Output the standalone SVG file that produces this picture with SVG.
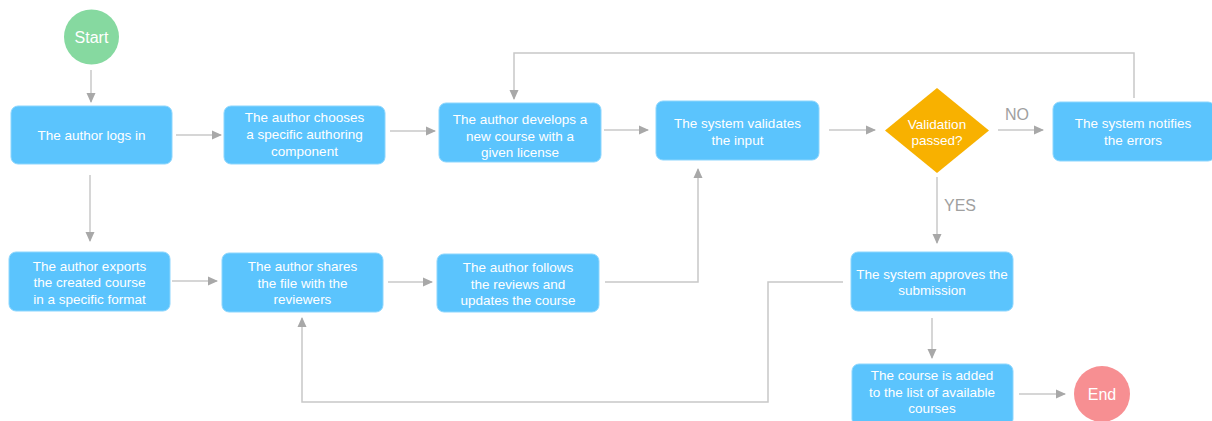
<svg xmlns="http://www.w3.org/2000/svg" width="1212" height="421" viewBox="0 0 1212 421">
<defs>
<marker id="arr" markerWidth="10" markerHeight="10" refX="9" refY="5" orient="auto" markerUnits="userSpaceOnUse">
<path d="M0,0.5 L10,5 L0,9.5 Z" fill="#a8a8a8"/>
</marker>
<style>
.box{fill:#5bc4fd;stroke:#8dd6fd;stroke-width:1}
.t{font-family:"Liberation Sans",Arial,sans-serif;font-size:13.5px;fill:#ffffff;text-anchor:middle;dominant-baseline:central}
.big{font-size:16px}
.lbl{font-family:"Liberation Sans",Arial,sans-serif;font-size:16px;fill:#a0a0a0;text-anchor:middle;dominant-baseline:central}
.c{fill:none;stroke:#c8c8c8;stroke-width:1.5}
.ca{fill:none;stroke:#c8c8c8;stroke-width:1.5;marker-end:url(#arr)}
</style>
</defs>
<rect width="1212" height="421" fill="#ffffff"/>
<g id="connectors">
<line class="ca" x1="91" y1="70" x2="91" y2="102"/>
<line class="ca" x1="176" y1="135" x2="221" y2="135"/>
<line class="ca" x1="390" y1="131" x2="435" y2="131"/>
<line class="ca" x1="604" y1="130" x2="648" y2="130"/>
<line class="ca" x1="829" y1="130" x2="875" y2="130"/>
<line class="ca" x1="998" y1="130" x2="1043" y2="130"/>
<polyline class="ca" points="1134,98 1134,53 514,53 514,99"/>
<line class="ca" x1="937" y1="177" x2="937" y2="243"/>
<line class="ca" x1="90" y1="175" x2="90" y2="241"/>
<line class="ca" x1="172" y1="281" x2="217" y2="281"/>
<line class="ca" x1="388" y1="282" x2="432" y2="282"/>
<polyline class="ca" points="605,282 698,282 698,169"/>
<polyline class="ca" points="843,282 768,282 768,402 302,402 302,318"/>
<line class="ca" x1="932" y1="318" x2="932" y2="358"/>
<line class="ca" x1="1019" y1="394" x2="1065" y2="394"/>
<text class="lbl" x="1017" y="114">NO</text>
<text class="lbl" x="960" y="205">YES</text>
</g>
<g id="start">
<circle cx="91.5" cy="37" r="27.5" fill="#86d9a0"/>
<text class="t big" x="91.5" y="37">Start</text>
</g>
<g id="login">
<rect class="box" x="11" y="106" width="161" height="58" rx="7"/>
<text class="t" x="91.5" y="135">The author logs in</text>
</g>
<g id="choose">
<rect class="box" x="224" y="106" width="161" height="58" rx="7"/>
<text class="t" x="304.5" y="117">The author chooses</text>
<text class="t" x="304.5" y="134">a specific authoring</text>
<text class="t" x="304.5" y="151">component</text>
</g>
<g id="develop">
<rect class="box" x="439" y="103" width="162" height="59" rx="7"/>
<text class="t" x="520" y="119">The author develops a</text>
<text class="t" x="520" y="136">new course with a</text>
<text class="t" x="520" y="152">given license</text>
</g>
<g id="validate">
<rect class="box" x="656" y="101" width="163" height="59" rx="7"/>
<text class="t" x="737.5" y="123">The system validates</text>
<text class="t" x="737.5" y="140">the input</text>
</g>
<g id="decision">
<polygon points="937,88 989,130.5 937,173 885,130.5" fill="#f8b100"/>
<text class="t" x="937" y="124">Validation</text>
<text class="t" x="937" y="140">passed?</text>
</g>
<g id="notify">
<rect class="box" x="1053" y="102" width="162" height="59" rx="7"/>
<text class="t" x="1133" y="123">The system notifies</text>
<text class="t" x="1133" y="140">the errors</text>
</g>
<g id="export">
<rect class="box" x="9" y="252" width="161" height="59" rx="7"/>
<text class="t" x="89.5" y="266">The author exports</text>
<text class="t" x="89.5" y="282">the created course</text>
<text class="t" x="89.5" y="299">in a specific format</text>
</g>
<g id="share">
<rect class="box" x="222" y="253" width="161" height="59" rx="7"/>
<text class="t" x="302.5" y="266">The author shares</text>
<text class="t" x="302.5" y="283">the file with the</text>
<text class="t" x="302.5" y="299">reviewers</text>
</g>
<g id="follow">
<rect class="box" x="437" y="254" width="162" height="58" rx="7"/>
<text class="t" x="518" y="267">The author follows</text>
<text class="t" x="518" y="284">the reviews and</text>
<text class="t" x="518" y="300">updates the course</text>
</g>
<g id="approve">
<rect class="box" x="851" y="252" width="162" height="59" rx="7"/>
<text class="t" x="932" y="274">The system approves the</text>
<text class="t" x="932" y="290">submission</text>
</g>
<g id="added">
<rect class="box" x="852" y="364" width="161" height="62" rx="7"/>
<text class="t" x="932" y="375">The course is added</text>
<text class="t" x="932" y="392">to the list of available</text>
<text class="t" x="932" y="408">courses</text>
</g>
<g id="end">
<circle cx="1102" cy="394" r="28" fill="#f78f92"/>
<text class="t big" x="1102" y="394">End</text>
</g>
</svg>
